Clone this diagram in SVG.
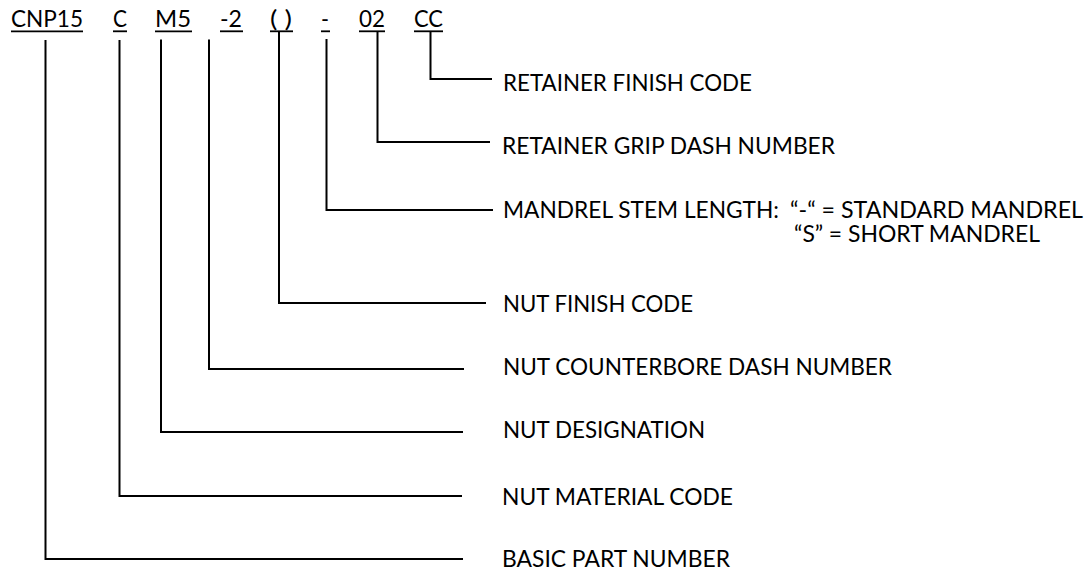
<svg xmlns="http://www.w3.org/2000/svg" width="1091" height="572" viewBox="0 0 1091 572">
<style>
text{font-family:Lato,"Open Sans","Liberation Sans",sans-serif;font-size:23.5px;fill:#000}
.u{stroke:#000;stroke-width:1.8}
.c{fill:none;stroke:#000;stroke-width:2;stroke-linejoin:miter}
</style>
<rect width="1091" height="572" fill="#fff"/>
<g id="code">
<g id="seg-cnp15"><text x="11" y="27" textLength="72" lengthAdjust="spacingAndGlyphs">CNP15</text><line class="u" x1="11" y1="31.3" x2="83" y2="31.3"/></g>
<g id="seg-c"><text x="113" y="27" textLength="14" lengthAdjust="spacingAndGlyphs">C</text><line class="u" x1="113" y1="31.3" x2="127" y2="31.3"/></g>
<g id="seg-m5"><text x="155" y="27" textLength="36" lengthAdjust="spacingAndGlyphs">M5</text><line class="u" x1="155" y1="31.3" x2="192" y2="31.3"/></g>
<g id="seg-dash2"><text x="220" y="27" textLength="22" lengthAdjust="spacingAndGlyphs">-2</text><line class="u" x1="220" y1="31.3" x2="243" y2="31.3"/></g>
<g id="seg-paren"><text x="270" y="27" textLength="22" lengthAdjust="spacingAndGlyphs">( )</text><line class="u" x1="270" y1="31.3" x2="293" y2="31.3"/></g>
<g id="seg-dash"><text x="321" y="27" textLength="8" lengthAdjust="spacingAndGlyphs">-</text><line class="u" x1="321" y1="31.3" x2="330" y2="31.3"/></g>
<g id="seg-02"><text x="359" y="27" textLength="26" lengthAdjust="spacingAndGlyphs">02</text><line class="u" x1="359" y1="31.3" x2="385" y2="31.3"/></g>
<g id="seg-cc"><text x="414" y="27" textLength="29" lengthAdjust="spacingAndGlyphs">CC</text><line class="u" x1="414" y1="31.3" x2="443" y2="31.3"/></g>
</g>
<g id="connectors">
<polyline class="c" points="430.5,31 430.5,79 492,79"/>
<polyline class="c" points="377.5,31 377.5,142 490,142"/>
<polyline class="c" points="326.5,39 326.5,210 493,210"/>
<polyline class="c" points="279,31 279,303 486,303"/>
<polyline class="c" points="209,39.5 209,369 464,369"/>
<polyline class="c" points="161,39.5 161,432 463,432"/>
<polyline class="c" points="119.5,40 119.5,496 462,496"/>
<polyline class="c" points="45.5,40 45.5,559 463,559"/>
</g>
<g id="label-retainer-finish"><text x="503" y="91" textLength="249" lengthAdjust="spacingAndGlyphs">RETAINER FINISH CODE</text></g>
<g id="label-retainer-grip"><text x="502" y="154" textLength="333" lengthAdjust="spacingAndGlyphs">RETAINER GRIP DASH NUMBER</text></g>
<g id="label-mandrel">
<text x="503" y="218" textLength="276" lengthAdjust="spacingAndGlyphs">MANDREL STEM LENGTH:</text>
<text x="790" y="218" textLength="293" lengthAdjust="spacingAndGlyphs">“-“ = STANDARD MANDREL</text>
<text x="794" y="242" textLength="246" lengthAdjust="spacingAndGlyphs">“S” = SHORT MANDREL</text>
</g>
<g id="label-nut-finish"><text x="503" y="312" textLength="190" lengthAdjust="spacingAndGlyphs">NUT FINISH CODE</text></g>
<g id="label-nut-counterbore"><text x="503" y="375" textLength="389" lengthAdjust="spacingAndGlyphs">NUT COUNTERBORE DASH NUMBER</text></g>
<g id="label-nut-designation"><text x="503" y="438" textLength="202" lengthAdjust="spacingAndGlyphs">NUT DESIGNATION</text></g>
<g id="label-nut-material"><text x="502" y="505" textLength="231" lengthAdjust="spacingAndGlyphs">NUT MATERIAL CODE</text></g>
<g id="label-basic-part"><text x="502" y="567" textLength="228" lengthAdjust="spacingAndGlyphs">BASIC PART NUMBER</text></g>
</svg>
